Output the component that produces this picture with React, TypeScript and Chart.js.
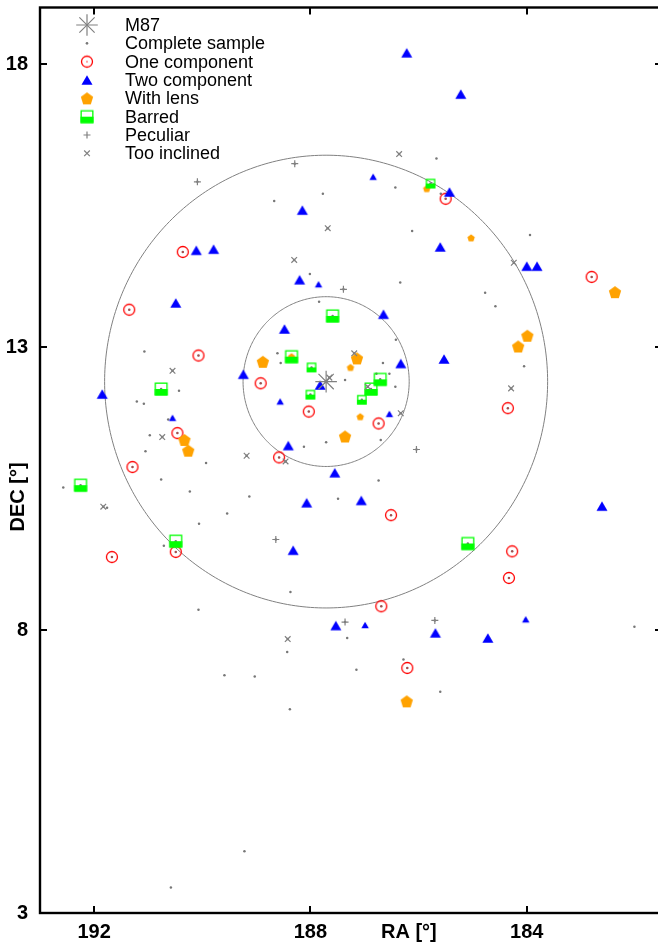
import React, { useEffect, useRef } from 'react';
import { Chart, registerables } from 'chart.js';

Chart.register(...registerables);

// ---------- data (RA [deg], DEC [deg]) ----------
const m87 = [187.71, 12.39];
const circleRadiiDeg = [1.5, 4];
const raRange = [181.5, 193];
const decRange = [3, 19];
const xTickValues = [192, 188, 184];
const yTickValues = [3, 8, 13, 18];
const legendLabels = ['M87', 'Complete sample', 'One component', 'Two component', 'With lens', 'Barred', 'Peculiar', 'Too inclined'];

const unclassified = [
  [185.67, 16.33], [186.43, 15.82], [185.59, 15.71], [187.77, 15.71], [188.67, 15.58],
  [186.12, 15.05], [183.94, 14.98], [191.07, 12.92], [190.43, 12.23], [191.21, 12.04],
  [191.08, 12.0], [190.63, 11.72], [190.97, 11.44], [191.05, 11.16], [189.93, 10.95],
  [188.01, 14.29], [186.34, 14.14], [187.84, 13.8], [186.42, 13.13], [188.61, 12.89],
  [188.55, 12.72], [186.66, 12.72], [186.54, 12.53], [186.78, 12.53], [187.36, 12.42],
  [186.43, 12.3], [186.7, 11.36], [187.71, 11.32], [188.12, 11.24], [184.77, 13.96],
  [184.58, 13.72], [184.05, 12.66], [190.76, 10.66], [192.57, 10.52], [190.23, 10.45],
  [191.76, 10.16], [189.54, 10.06], [190.06, 9.88], [189.13, 10.36], [190.71, 9.49],
  [190.07, 8.36], [189.59, 7.2], [186.74, 10.64], [187.49, 10.32], [188.37, 8.67],
  [187.32, 7.86], [188.43, 7.61], [187.15, 7.3], [189.03, 7.18], [186.28, 7.48],
  [185.6, 6.91], [182.01, 8.06], [190.58, 3.45], [189.22, 4.09], [188.38, 6.6],
];

const oneComponent = [
  [185.5, 15.62], [190.36, 14.68], [191.35, 13.66], [190.07, 12.85], [190.46, 11.48],
  [191.29, 10.88], [190.49, 9.38], [191.67, 9.29], [188.92, 12.36], [188.03, 11.86],
  [186.74, 11.65], [188.58, 11.05], [186.51, 10.03], [186.69, 8.42], [186.21, 7.33],
  [182.8, 14.24], [184.35, 11.92], [184.27, 9.39], [184.33, 8.92],
];

const twoComponentLarge = [
  [186.22, 18.2], [185.22, 17.47], [188.15, 15.42], [185.43, 15.74], [190.11, 14.71],
  [189.79, 14.73], [190.49, 13.78], [189.24, 12.52], [191.85, 12.17], [185.6, 14.77],
  [188.2, 14.19], [186.65, 13.58], [188.48, 13.32], [186.33, 12.71], [185.53, 12.79],
  [187.82, 12.33], [188.41, 11.26], [187.55, 10.78], [184.0, 14.43], [183.81, 14.43],
  [188.07, 10.25], [187.06, 10.29], [188.32, 9.41], [187.53, 8.08], [185.69, 7.95],
  [182.61, 10.19], [184.72, 7.86],
];

const twoComponentSmall = [
  [186.84, 16.01], [187.85, 14.11], [190.55, 11.75], [188.56, 12.04], [186.54, 11.82],
  [186.99, 8.09], [184.02, 8.19],
];

const lensLarge = [
  [190.33, 11.36], [190.26, 11.17], [188.88, 12.74], [187.14, 12.8], [187.36, 11.42],
  [183.99, 13.2], [184.16, 13.01], [182.37, 13.97], [186.22, 6.74],
];

const lensSmall = [
  [185.85, 15.8], [185.03, 14.93], [187.26, 12.64], [187.08, 11.77], [188.35, 12.83],
];

const barredLarge = [
  [190.76, 12.26], [187.59, 13.55], [188.35, 12.83], [186.71, 12.43], [186.88, 12.26],
  [192.25, 10.56], [190.49, 9.57], [185.09, 9.53],
];

const barredSmall = [
  [185.78, 15.89], [187.98, 12.64], [188.0, 12.16], [187.05, 12.07],
];

const peculiar = [
  [190.09, 15.92], [188.29, 16.24], [187.39, 14.02], [186.04, 11.19], [188.64, 9.6],
  [187.36, 8.14], [185.7, 8.17],
];

const tooInclined = [
  [186.36, 16.41], [187.68, 15.1], [188.3, 14.54], [190.55, 12.58], [190.74, 11.41],
  [189.18, 11.08], [187.19, 12.89], [187.65, 12.46], [186.94, 12.3], [186.33, 11.83],
  [188.46, 10.98], [184.24, 14.49], [184.29, 12.27], [191.83, 10.18], [188.42, 7.84],
];

const completeSample = [
  ...unclassified, ...oneComponent, ...twoComponentLarge, ...twoComponentSmall,
  ...lensLarge, ...lensSmall, ...barredLarge, ...barredSmall, ...peculiar, ...tooInclined,
];

// ---------- styles ----------
const GRAY = '#808080';
const DOT = '#777777';
const RED = '#ff0000';
const BLUE = '#0000ff';
const ORANGE = '#ffa200';
const GREEN = '#00ff00';
const FONT = '"Liberation Sans", Arial, Helvetica, sans-serif';

const toXY = (arr: number[][]) => arr.map(([x, y]) => ({ x, y }));

function mk(w: number, h: number) {
  const c = document.createElement('canvas');
  c.width = w;
  c.height = h;
  return c;
}

function triangleImg(w: number) {
  const h = (w * Math.sqrt(3)) / 2;
  const W = 2 * Math.ceil(w / 2) + 2;
  const H = 2 * Math.ceil(h / 2) + 2;
  const c = mk(W, H);
  const ctx = c.getContext('2d')!;
  ctx.fillStyle = BLUE;
  ctx.beginPath();
  ctx.moveTo(W / 2, H / 2 - h / 2);
  ctx.lineTo(W / 2 + w / 2, H / 2 + h / 2);
  ctx.lineTo(W / 2 - w / 2, H / 2 + h / 2);
  ctx.closePath();
  ctx.fill();
  return c;
}

function pentagonImg(R: number) {
  const S = 2 * Math.ceil(R) + 2;
  const c = mk(S, S);
  const ctx = c.getContext('2d')!;
  const cx = S / 2;
  const cy = S / 2 + 0.0955 * R;
  ctx.fillStyle = ORANGE;
  ctx.beginPath();
  for (let k = 0; k < 5; k++) {
    const a = -Math.PI / 2 + (k * 2 * Math.PI) / 5;
    const px = cx + R * Math.cos(a);
    const py = cy + R * Math.sin(a);
    if (k === 0) ctx.moveTo(px, py);
    else ctx.lineTo(px, py);
  }
  ctx.closePath();
  ctx.fill();
  return c;
}

function squareImg(side: number) {
  const S = 2 * Math.ceil(side / 2) + 2;
  const c = mk(S, S);
  const ctx = c.getContext('2d')!;
  const lw = 1.3;
  const o = (S - side) / 2;
  ctx.fillStyle = GREEN;
  ctx.fillRect(o, S / 2, side, side / 2);
  ctx.strokeStyle = GREEN;
  ctx.lineWidth = lw;
  ctx.strokeRect(o + lw / 2, o + lw / 2, side - lw, side - lw);
  return c;
}

function ringImg(r: number) {
  const S = 2 * Math.ceil(r + 1) + 2;
  const c = mk(S, S);
  const ctx = c.getContext('2d')!;
  ctx.strokeStyle = RED;
  ctx.lineWidth = 1.3;
  ctx.beginPath();
  ctx.arc(S / 2, S / 2, r, 0, Math.PI * 2);
  ctx.stroke();
  ctx.fillStyle = 'rgba(255,0,0,0.55)';
  ctx.beginPath();
  ctx.arc(S / 2, S / 2, 0.9, 0, Math.PI * 2);
  ctx.fill();
  return c;
}

function drawCross(ctx: CanvasRenderingContext2D, x: number, y: number, r: number, rot: boolean) {
  ctx.beginPath();
  if (rot) {
    const d = r * Math.SQRT1_2;
    ctx.moveTo(x - d, y - d); ctx.lineTo(x + d, y + d);
    ctx.moveTo(x - d, y + d); ctx.lineTo(x + d, y - d);
  } else {
    ctx.moveTo(x - r, y); ctx.lineTo(x + r, y);
    ctx.moveTo(x, y - r); ctx.lineTo(x, y + r);
  }
  ctx.stroke();
}

function zeroPadding(s: any) {
  s.paddingTop = 0;
  s.paddingBottom = 0;
  s.paddingLeft = 0;
  s.paddingRight = 0;
}

export default function App() {
  const ref = useRef<HTMLCanvasElement>(null);

  useEffect(() => {
    const canvas = ref.current!;
    const triBig = triangleImg(11);
    const triSmall = triangleImg(7.4);
    const pentBig = pentagonImg(6.5);
    const pentSmall = pentagonImg(3.9);
    const sqBig = squareImg(13);
    const sqSmall = squareImg(9.6);
    const ring = ringImg(5.5);

    const framePlugin = {
      id: 'frame',
      beforeDatasetsDraw(chart: any) {
        const ctx: CanvasRenderingContext2D = chart.ctx;
        const xs = chart.scales.x;
        const ys = chart.scales.y;
        const cosd = Math.cos((m87[1] * Math.PI) / 180);
        ctx.save();
        ctx.strokeStyle = GRAY;
        ctx.lineWidth = 1;
        for (const r of circleRadiiDeg) {
          ctx.beginPath();
          for (let i = 0; i <= 360; i++) {
            const t = (i * Math.PI) / 180;
            const px = xs.getPixelForValue(m87[0] + (r * Math.cos(t)) / cosd);
            const py = ys.getPixelForValue(m87[1] + r * Math.sin(t));
            if (i === 0) ctx.moveTo(px, py);
            else ctx.lineTo(px, py);
          }
          ctx.stroke();
        }
        ctx.restore();
      },
      afterDraw(chart: any) {
        const ctx: CanvasRenderingContext2D = chart.ctx;
        const { left, right, top, bottom } = chart.chartArea;
        const xs = chart.scales.x;
        const ys = chart.scales.y;
        ctx.save();
        // frame
        ctx.strokeStyle = '#000';
        ctx.lineWidth = 2.4;
        ctx.strokeRect(left, top, right - left, bottom - top);
        ctx.lineWidth = 2;
        const tl = 7;
        ctx.beginPath();
        for (const v of xTickValues) {
          const px = Math.round(xs.getPixelForValue(v));
          ctx.moveTo(px, bottom); ctx.lineTo(px, bottom - tl);
          ctx.moveTo(px, top); ctx.lineTo(px, top + tl);
        }
        for (const v of yTickValues) {
          const py = ys.getPixelForValue(v);
          ctx.moveTo(left, py); ctx.lineTo(left + tl, py);
          ctx.moveTo(right, py); ctx.lineTo(right - tl, py);
        }
        ctx.stroke();

        // axis titles
        ctx.fillStyle = '#000';
        ctx.font = `bold 20px ${FONT}`;
        ctx.textAlign = 'center';
        ctx.textBaseline = 'middle';
        ctx.fillText('RA [°]', xs.getPixelForValue(186.18), 932);
        ctx.save();
        ctx.translate(18, 497);
        ctx.rotate(-Math.PI / 2);
        ctx.fillText('DEC [°]', 0, 0);
        ctx.restore();

        // legend
        const sx = 87;
        const tx = 125;
        const y0 = 25;
        const dy = 18.33;
        ctx.font = `18px ${FONT}`;
        ctx.textAlign = 'left';
        ctx.textBaseline = 'middle';
        legendLabels.forEach((lab, i) => {
          const y = y0 + i * dy;
          ctx.fillStyle = '#000';
          ctx.fillText(lab, tx, y + 1);
          ctx.strokeStyle = GRAY;
          ctx.lineWidth = 1.2;
          if (i === 0) {
            drawCross(ctx, sx, y, 10.8, false);
            drawCross(ctx, sx, y, 10.8, true);
          } else if (i === 1) {
            ctx.fillStyle = DOT;
            ctx.beginPath();
            ctx.arc(sx, y, 1.3, 0, Math.PI * 2);
            ctx.fill();
          } else {
            const img =
              i === 2 ? ring : i === 3 ? triBig : i === 4 ? pentBig : i === 5 ? sqBig : null;
            if (img) {
              ctx.drawImage(img, sx - img.width / 2, y - img.height / 2);
            } else {
              drawCross(ctx, sx, y, i === 6 ? 3.5 : 4, i === 7);
            }
          }
        });
        ctx.restore();
      },
    };

    const tickFont = { family: FONT, size: 20, weight: 'bold' as const };

    const chart = new Chart(canvas, {
      type: 'scatter',
      data: {
        datasets: [
          { label: legendLabels[0], data: toXY([m87]), pointStyle: 'star', pointRadius: 10.8, borderColor: GRAY, borderWidth: 1.2, order: 0 },
          { label: legendLabels[1], data: toXY(completeSample), pointStyle: 'circle', pointRadius: 1.25, backgroundColor: DOT, borderWidth: 0, order: 9 },
          { label: legendLabels[2], data: toXY(oneComponent), pointStyle: ring, pointRadius: 6, order: 8 },
          { label: legendLabels[3], data: toXY(twoComponentLarge), pointStyle: triBig, pointRadius: 6, order: 7 },
          { label: legendLabels[3] + ' (small)', data: toXY(twoComponentSmall), pointStyle: triSmall, pointRadius: 4, order: 7 },
          { label: legendLabels[4], data: toXY(lensLarge), pointStyle: pentBig, pointRadius: 6, order: 6 },
          { label: legendLabels[4] + ' (small)', data: toXY(lensSmall), pointStyle: pentSmall, pointRadius: 4, order: 6 },
          { label: legendLabels[5], data: toXY(barredLarge), pointStyle: sqBig, pointRadius: 6, order: 5 },
          { label: legendLabels[5] + ' (small)', data: toXY(barredSmall), pointStyle: sqSmall, pointRadius: 4, order: 5 },
          { label: legendLabels[6], data: toXY(peculiar), pointStyle: 'cross', pointRadius: 3.5, borderColor: GRAY, borderWidth: 1.2, order: 4 },
          { label: legendLabels[7], data: toXY(tooInclined), pointStyle: 'crossRot', pointRadius: 4, borderColor: GRAY, borderWidth: 1.2, order: 3 },
        ] as any,
      },
      options: {
        animation: false,
        responsive: false,
        devicePixelRatio: 1,
        events: [],
        layout: { autoPadding: false, padding: { top: 7.5, right: 2, left: 0, bottom: 0 } },
        plugins: { legend: { display: false }, tooltip: { enabled: false } },
        scales: {
          x: {
            type: 'linear',
            position: 'bottom',
            min: raRange[0],
            max: raRange[1],
            reverse: true,
            grid: { display: false, drawTicks: false },
            border: { display: false },
            ticks: { color: '#000', font: tickFont, padding: 7, maxRotation: 0, autoSkip: false },
            afterBuildTicks: (s: any) => { s.ticks = xTickValues.map((v) => ({ value: v })); },
            afterFit: (s: any) => { s.height = 30; zeroPadding(s); },
          },
          y: {
            type: 'linear',
            position: 'left',
            min: decRange[0],
            max: decRange[1],
            grid: { display: false, drawTicks: false },
            border: { display: false },
            ticks: { color: '#000', font: tickFont, padding: 12, autoSkip: false },
            afterBuildTicks: (s: any) => { s.ticks = yTickValues.map((v) => ({ value: v })); },
            afterFit: (s: any) => { s.width = 40; zeroPadding(s); },
          },
        },
      } as any,
      plugins: [framePlugin],
    });

    return () => chart.destroy();
  }, []);

  return (
    <div style={{ position: 'absolute', left: 0, top: 0, width: 658, height: 943, overflow: 'hidden', background: '#fff' }}>
      <canvas ref={ref} width={664} height={943} style={{ display: 'block', width: 664, height: 943 }} />
    </div>
  );
}
